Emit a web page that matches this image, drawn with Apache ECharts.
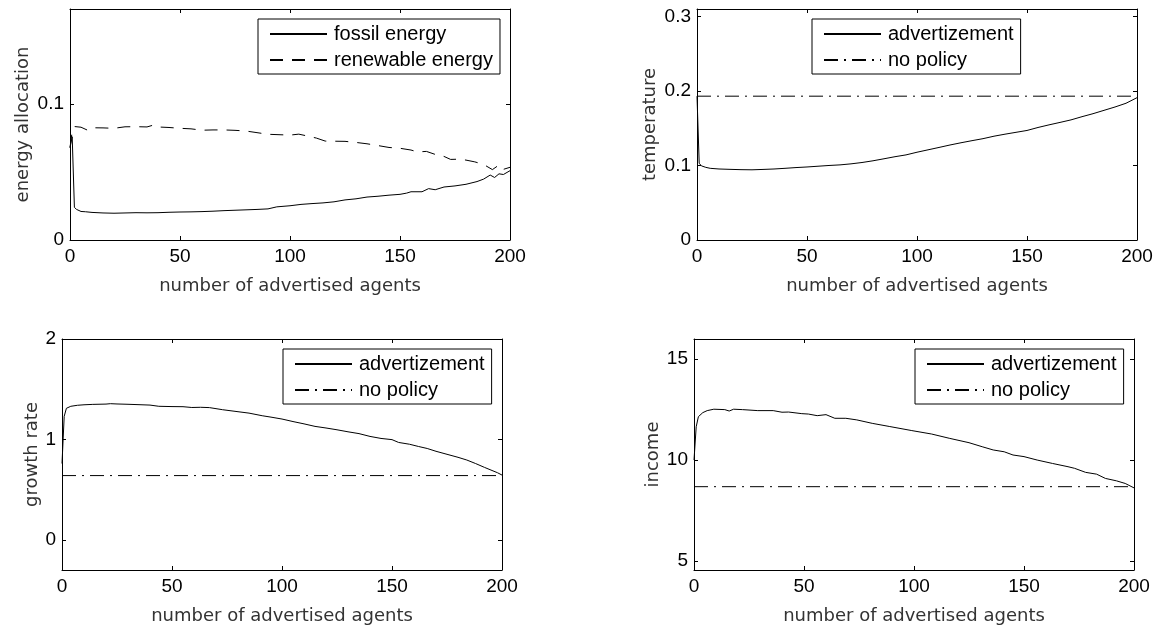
<!DOCTYPE html>
<html>
<head>
<meta charset="utf-8">
<script src="https://cdn.jsdelivr.net/npm/echarts@6/dist/echarts.min.js"></script>
<style>
html,body{margin:0;padding:0;background:#fff;}
#chart{width:1159px;height:628px;}
</style>
</head>
<body>
<div id="chart"></div>
<script>
// ---- data ----
const xTicks = [0, 50, 100, 150, 200];
const xLabelName = 'number of advertised agents';

// panel 1: energy allocation
const fossilEnergy = [[0,0.068],[1,0.076],[2,0.024],[3,0.0225],[5,0.021],[7,0.0208],[10,0.0203],[15,0.0199],[20,0.0197],[25,0.0199],[30,0.0201],[35,0.0200],[40,0.0201],[45,0.0204],[50,0.0206],[55,0.0207],[60,0.0209],[65,0.0212],[70,0.0216],[75,0.0219],[80,0.0222],[85,0.0225],[90,0.0229],[94,0.0244],[100,0.0252],[105,0.0262],[110,0.0268],[115,0.0273],[120,0.0281],[125,0.0295],[130,0.0303],[135,0.0316],[140,0.0322],[145,0.0330],[150,0.0336],[153,0.0345],[155,0.0355],[160,0.0355],[163,0.0378],[166,0.0370],[170,0.0390],[175,0.0398],[180,0.0410],[185,0.0430],[188,0.0448],[191,0.0478],[193,0.0460],[195,0.0487],[197,0.0482],[200,0.051]];
const renewableEnergy = [[0,0.068],[1,0.080],[2,0.0835],[5,0.083],[8,0.0808],[10,0.0826],[15,0.0825],[20,0.0822],[25,0.0833],[30,0.0834],[35,0.0832],[38,0.0846],[41,0.0831],[45,0.0828],[50,0.0822],[55,0.0818],[60,0.0808],[65,0.0810],[70,0.0810],[75,0.0807],[80,0.0802],[85,0.0790],[90,0.0778],[95,0.0775],[100,0.0772],[104,0.0779],[108,0.0765],[112,0.0750],[116,0.0728],[120,0.0727],[125,0.0726],[130,0.0718],[135,0.0708],[140,0.0695],[145,0.0681],[150,0.0675],[155,0.0662],[158,0.0648],[162,0.0652],[166,0.0630],[170,0.0615],[173,0.0593],[177,0.0595],[180,0.0588],[184,0.0575],[188,0.0556],[192,0.0518],[195,0.0552],[197,0.0520],[200,0.0535]];
const energyTicks = [0, 0.1];

// panel 2: temperature
const tempAdvert = [[0,0.193],[1,0.103],[2,0.0995],[4,0.0975],[6,0.0962],[10,0.0953],[15,0.0948],[20,0.0944],[25,0.0942],[30,0.0947],[35,0.0953],[40,0.0962],[45,0.0972],[50,0.0980],[55,0.0990],[60,0.1000],[65,0.1008],[70,0.1022],[75,0.1040],[80,0.1063],[85,0.1090],[90,0.1118],[95,0.1142],[100,0.1178],[105,0.1210],[110,0.1242],[115,0.1275],[120,0.1305],[125,0.1333],[130,0.1360],[135,0.1393],[140,0.1420],[145,0.1445],[150,0.1470],[155,0.1510],[160,0.1545],[165,0.1578],[170,0.1612],[175,0.1655],[180,0.1695],[185,0.1740],[190,0.1785],[195,0.1835],[200,0.191]];
const tempNoPolicy = [[0,0.193],[200,0.193]];
const tempTicks = [0, 0.1, 0.2, 0.3];

// panel 3: growth rate
const growthAdvert = [[0,0.76],[1,1.23],[2,1.31],[4,1.33],[7,1.34],[10,1.345],[14,1.349],[20,1.352],[22,1.356],[25,1.353],[30,1.350],[35,1.346],[40,1.342],[44,1.330],[50,1.327],[55,1.326],[59,1.318],[63,1.320],[67,1.317],[73,1.296],[80,1.276],[85,1.262],[91,1.236],[95,1.222],[100,1.203],[105,1.178],[110,1.155],[115,1.130],[120,1.114],[125,1.096],[130,1.076],[135,1.058],[140,1.030],[145,1.010],[150,0.998],[153,0.970],[158,0.952],[162,0.930],[166,0.910],[170,0.882],[175,0.852],[180,0.822],[184,0.795],[188,0.760],[192,0.722],[195,0.695],[198,0.668],[200,0.645]];
const growthNoPolicy = [[0,0.64],[200,0.64]];
const growthTicks = [0, 1, 2];

// panel 4: income
const incomeAdvert = [[0,10.0],[1,11.65],[2,12.15],[4,12.35],[6,12.45],[9,12.52],[14,12.50],[16,12.43],[18,12.52],[22,12.50],[29,12.45],[36,12.45],[40,12.37],[43,12.38],[49,12.30],[52,12.28],[56,12.20],[60,12.25],[64,12.07],[69,12.07],[74,11.99],[81,11.82],[89,11.66],[99,11.46],[108,11.29],[116,11.08],[125,10.86],[131,10.66],[136,10.50],[141,10.41],[145,10.25],[150,10.17],[156,10.00],[163,9.83],[170,9.67],[173,9.59],[178,9.39],[183,9.30],[187,9.09],[192,8.97],[196,8.84],[200,8.62]];
const incomeNoPolicy = [[0,8.68],[200,8.68]];
const incomeTicks = [5, 10, 15];

// ---- layout ----
const panels = [
  {grid:{left:70, top:9, width:440, height:231}, ymin:0, ymax:0.17, yTicks:energyTicks, yName:'energy allocation', yGap:38,
   series:[{name:'fossil energy', data:fossilEnergy, type:'solid'},{name:'renewable energy', data:renewableEnergy, type:[13,9]}],
   legend:{left:258, top:19}},
  {grid:{left:697, top:9, width:440, height:231}, ymin:0, ymax:0.31, yTicks:tempTicks, yName:'temperature', yGap:38,
   series:[{name:'advertizement', data:tempAdvert, type:'solid'},{name:'no policy', data:tempNoPolicy, type:[14,6,2,6]}],
   legend:{left:812, top:19}},
  {grid:{left:62, top:339, width:440, height:231}, ymin:-0.3, ymax:2, yTicks:growthTicks, yName:'growth rate', yGap:20,
   series:[{name:'advertizement', data:growthAdvert, type:'solid'},{name:'no policy', data:growthNoPolicy, type:[14,6,2,6]}],
   legend:{left:283, top:349}},
  {grid:{left:694, top:339, width:440, height:231}, ymin:4.55, ymax:16, yTicks:incomeTicks, yName:'income', yGap:32,
   series:[{name:'advertizement', data:incomeAdvert, type:'solid'},{name:'no policy', data:incomeNoPolicy, type:[14,6,2,6]}],
   legend:{left:915, top:349}}
];

const tickFont = {fontFamily:'Liberation Sans', fontSize:19, color:'#000'};
const nameFont = {fontFamily:'DejaVu Sans', fontSize:18, color:'#333'};

const option = {animation:false, backgroundColor:'#fff', grid:[], xAxis:[], yAxis:[], series:[], legend:[]};

panels.forEach((p, i) => {
  option.grid.push(Object.assign({containLabel:false}, p.grid));
  const axLine = {show:true, onZero:false, lineStyle:{color:'#000', width:1}};
  const xBase = {type:'value', gridIndex:i, min:0, max:200, axisLine:axLine, splitLine:{show:false}};
  const yBase = {type:'value', gridIndex:i, min:p.ymin, max:p.ymax, axisLine:axLine, splitLine:{show:false}};
  option.xAxis.push(Object.assign({}, xBase, {position:'bottom',
    name:xLabelName, nameLocation:'middle', nameGap:37, nameTextStyle:nameFont,
    axisTick:{show:true, inside:true, length:4, customValues:xTicks, lineStyle:{color:'#000'}},
    axisLabel:{show:true, margin:7, customValues:xTicks, ...tickFont}}));
  option.xAxis.push(Object.assign({}, xBase, {position:'top',
    axisTick:{show:true, inside:true, length:4, customValues:xTicks, lineStyle:{color:'#000'}},
    axisLabel:{show:false}}));
  option.yAxis.push(Object.assign({}, yBase, {position:'left',
    name:p.yName, nameLocation:'middle', nameGap:p.yGap, nameTextStyle:nameFont,
    axisTick:{show:true, inside:true, length:4, customValues:p.yTicks, lineStyle:{color:'#000'}},
    axisLabel:{show:true, margin:6, customValues:p.yTicks, ...tickFont}}));
  option.yAxis.push(Object.assign({}, yBase, {position:'right',
    axisTick:{show:true, inside:true, length:4, customValues:p.yTicks, lineStyle:{color:'#000'}},
    axisLabel:{show:false}}));
  const names = [];
  p.series.forEach(s => {
    names.push(s.name);
    option.series.push({type:'line', name:s.name, xAxisIndex:2*i, yAxisIndex:2*i,
      data:s.data, symbol:'none', showSymbol:false, smooth:false,
      lineStyle:{color:'#000', width:1, type:s.type}, itemStyle:{color:'#000'}, z:3});
  });
  option.legend.push({data:names, orient:'vertical', left:p.legend.left, top:p.legend.top,
    backgroundColor:'#fff', borderColor:'#000', borderWidth:1,
    padding:[5, 7, 4, 11], itemGap:6, itemWidth:57, itemHeight:12,
    itemStyle:{opacity:0, borderWidth:0},
    textStyle:{fontFamily:'Liberation Sans', fontSize:20, color:'#000', padding:[0,0,0,2]},
    selectedMode:false});
});

const chart = echarts.init(document.getElementById('chart'), null, {renderer:'canvas'});
chart.setOption(option);
</script>
</body>
</html>
